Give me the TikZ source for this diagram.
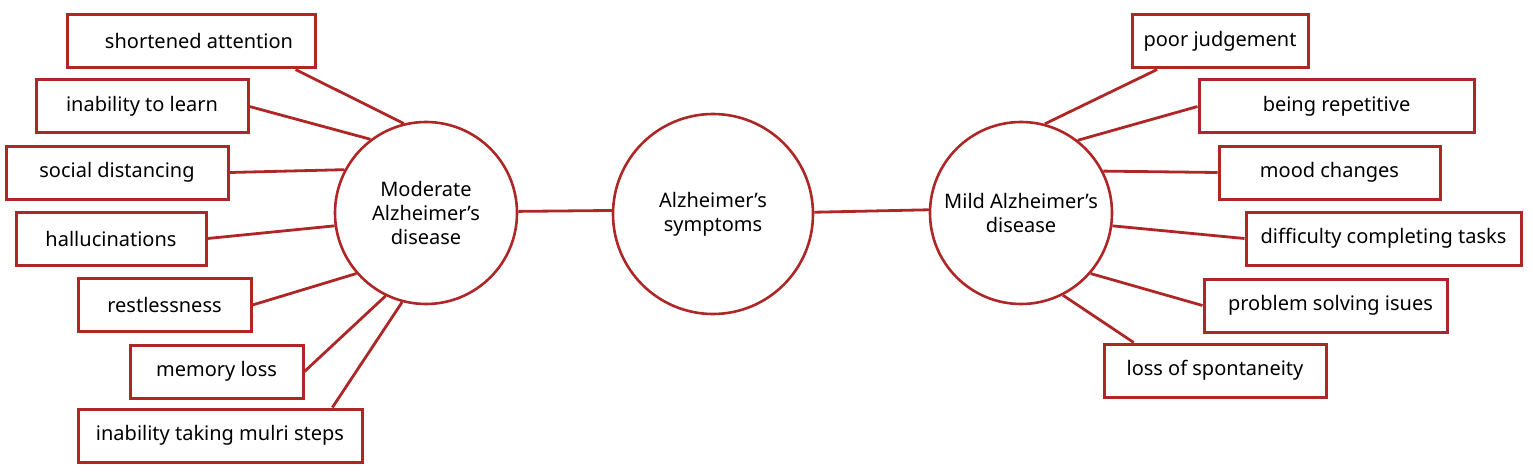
\documentclass[tikz,border=0pt]{standalone}
\usepackage{fontspec}
\setmainfont{Noto Sans}
\usepackage{xcolor,tikz}
\usetikzlibrary{positioning}
\definecolor{alzred}{RGB}{175,38,38}
\tikzset{sym/.style={draw=alzred,line width=3pt,fill=white,inner sep=0pt,
 font=\fontsize{20}{24}\selectfont,minimum height=53,text=black},
 stage/.style={circle,draw=alzred,line width=2.6pt,fill=white,inner sep=0pt,
 minimum size=182,align=center,font=\fontsize{20}{24}\selectfont,text=black},
 link/.style={draw=alzred,line width=2.8pt}}

\begin{document}
\begin{tikzpicture}[x=1pt,y=-1pt]
\useasboundingbox (0,0) rectangle (1533,476);
\node[stage] (mod) at (426,213) {Moderate\\Alzheimer’s\\disease};
\node[stage,minimum size=200] (cen) at (713,214) {Alzheimer’s\\symptoms};
\node[stage] (mild) at (1021,213) {Mild Alzheimer’s\\disease};
\draw[link] (mod.1.9)--(cen.178.3);
\draw[link] (cen.1.7)--(mild.178.1);
\node[sym,minimum width=248] (sa) at (191,41.5) {\hspace{16pt}shortened attention};
\node[sym,minimum width=212] (il) at (142,106.5) {inability to learn};
\node[sym,minimum width=222] (sd) at (117,172.5) {social distancing};
\node[sym,minimum width=190] (ha) at (111,238.5) {hallucinations};
\node[sym,minimum width=173] (re) at (164.5,305) {restlessness};
\node[sym,minimum width=173] (ml) at (216.5,371.5) {memory loss};
\node[sym,minimum width=284] (it) at (220,435.5) {inability taking mulri steps};
\draw[link] (sa.-15.7)--(mod.104.7);
\draw[link] (il.east)--(mod.127.9);
\draw[link] (sd.east)--(mod.152.6);
\draw[link] (ha.east)--(mod.188.2);
\draw[link] (re.east)--(mod.221);
\draw[link] (ml.east)--(mod.244.5);
\draw[link] (it.14.2)--(mod.255.5);
\node[sym,minimum width=176] (pj) at (1220,41.5) {poor judgement};
\node[sym,minimum width=275] (br) at (1336.5,106.5) {being repetitive};
\node[sym,minimum width=221] (mc) at (1329.5,172.5) {mood changes};
\node[sym,minimum width=275] (dc) at (1383.5,238.5) {difficulty completing tasks};
\node[sym,minimum width=243] (ps) at (1325.5,305.5) {\hspace{10pt}problem solving isues};
\node[sym,minimum width=222] (ls) at (1215,370.5) {loss of spontaneity};
\draw[link] (pj.204.9)--(mild.75.2);
\draw[link] (br.west)--(mild.52.6);
\draw[link] (mc.west)--(mild.27.7);
\draw[link] (dc.west)--(mild.-8.1);
\draw[link] (ps.west)--(mild.-41.4);
\draw[link] (ls.161.2)--(mild.-63.2);
\end{tikzpicture}
\end{document}
